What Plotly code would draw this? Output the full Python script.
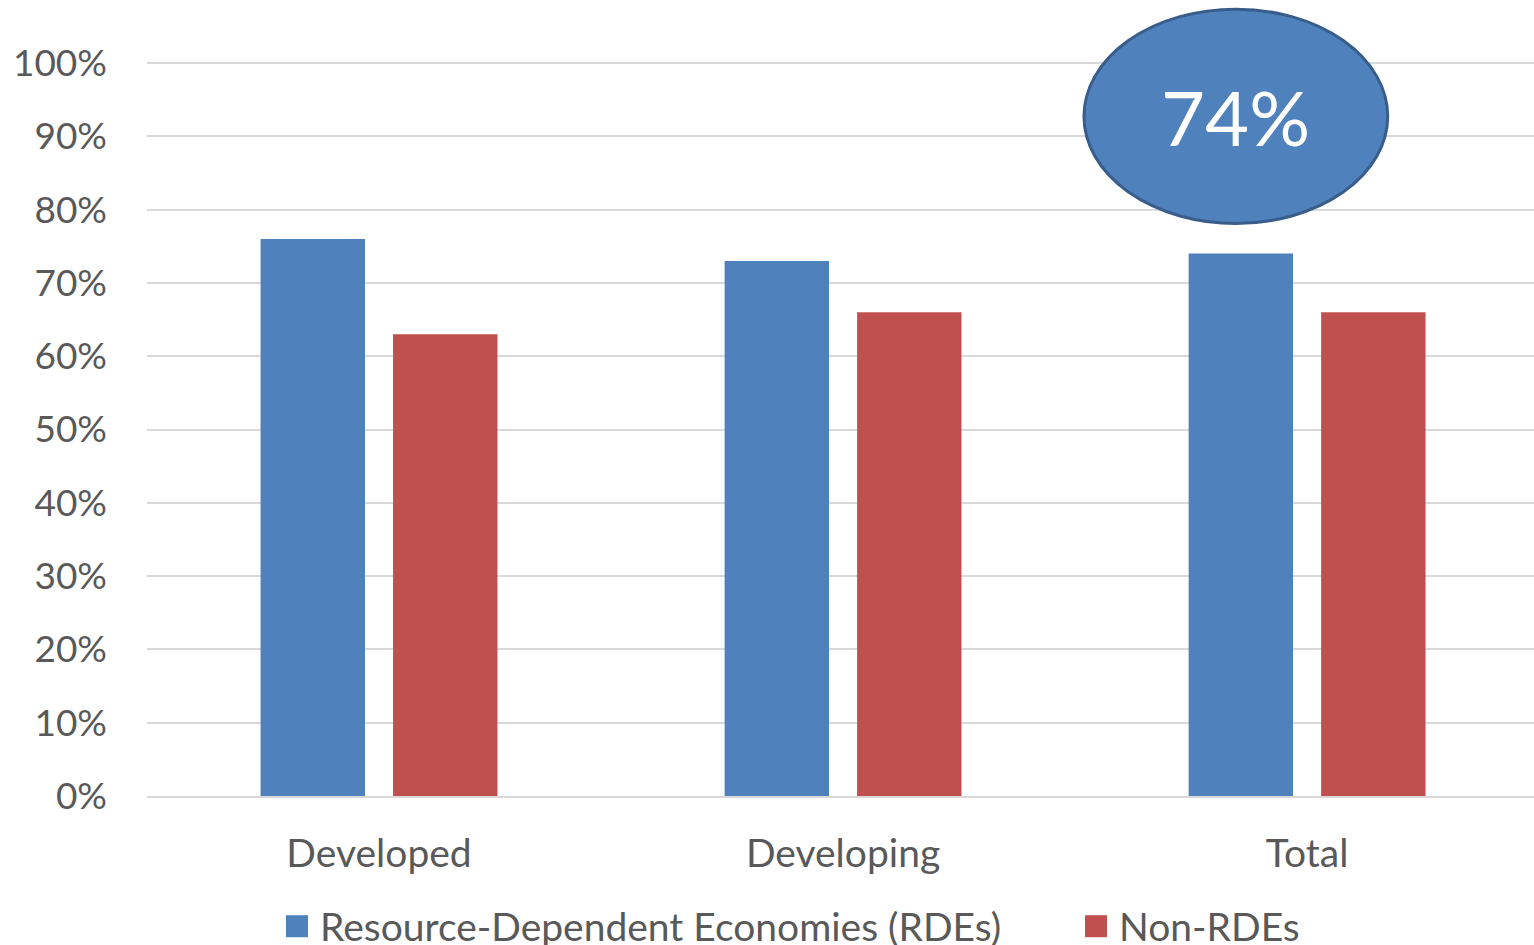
import plotly.graph_objects as go

# Share of economies, by group
categories = ["Developed", "Developing", "Total"]
series_names = ["Resource-Dependent Economies (RDEs)", "Non-RDEs"]
rde_values = [0.76, 0.73, 0.74]
non_rde_values = [0.63, 0.66, 0.66]
y_ticks = [0, 0.1, 0.2, 0.3, 0.4, 0.5, 0.6, 0.7, 0.8, 0.9, 1.0]
y_tick_labels = ["0%", "10%", "20%", "30%", "40%", "50%", "60%", "70%", "80%", "90%", "100%"]

BLUE = "#4F81BD"
RED = "#C0504D"
TEXT = "#595959"
GRID = "#D9D9D9"
FONT = "Lato"

W, H = 1534, 945
M_L, M_R, M_T, M_B = 147, 0, 62, 149
BARGAP = 0.429
GROUPGAP = 0.212
X_RANGE = [-0.5, 2.489]
Y_RANGE = [0, 1.0014]

fig = go.Figure()
fig.add_trace(go.Bar(x=categories, y=rde_values, name=series_names[0],
                     marker=dict(color=BLUE, line=dict(width=0)), showlegend=False))
fig.add_trace(go.Bar(x=categories, y=non_rde_values, name=series_names[1],
                     marker=dict(color=RED, line=dict(width=0)), showlegend=False))

fig.update_layout(
    width=W, height=H,
    margin=dict(l=M_L, r=M_R, t=M_T, b=M_B),
    paper_bgcolor="white", plot_bgcolor="white",
    barmode="group", bargap=BARGAP, bargroupgap=GROUPGAP,
    font=dict(family=FONT, color=TEXT, size=37),
)
fig.update_yaxes(range=Y_RANGE, tickvals=y_ticks, ticktext=y_tick_labels,
                 showgrid=True, gridcolor=GRID, gridwidth=2,
                 zeroline=False, showline=False, ticks="",
                 ticklabelstandoff=39, tickfont=dict(size=37, color=TEXT))
fig.update_xaxes(range=X_RANGE, showline=True, linecolor=GRID, linewidth=2, ticks="",
                 ticklabelstandoff=22, tickfont=dict(size=39, color=TEXT))

# Callout over the Total RDE bar (sitting a touch left of the bar centre)
span = X_RANGE[1] - X_RANGE[0]
group_w = 1 - BARGAP
idx = categories.index("Total")
cx = (idx - group_w / 4 - X_RANGE[0]) / span - 0.0036
rx, ry = 0.1095, 0.146
cy = 0.926
fig.add_shape(type="circle", xref="paper", yref="paper",
              x0=cx - rx, x1=cx + rx, y0=cy - ry, y1=cy + ry,
              fillcolor=BLUE, line=dict(color="#385D8A", width=3), layer="above")
fig.add_annotation(xref="paper", yref="paper", x=cx, y=cy,
                   text=f"{rde_values[idx]:.0%}", showarrow=False,
                   font=dict(family=FONT, size=76, color="white"),
                   xanchor="center", yanchor="middle")

# Legend row below the category labels
legend_items = [(series_names[0], BLUE, 0.1002), (series_names[1], RED, 0.6763)]
sq_w = 22 / (W - M_L - M_R)
sq_h = 22 / (H - M_T - M_B)
ly = -0.1774
for name, color, lx in legend_items:
    fig.add_shape(type="rect", xref="paper", yref="paper",
                  x0=lx, x1=lx + sq_w, y0=ly - sq_h / 2, y1=ly + sq_h / 2,
                  fillcolor=color, line=dict(width=0))
    fig.add_annotation(xref="paper", yref="paper", x=lx + sq_w + 0.0075, y=ly,
                       text=name, showarrow=False, xanchor="left", yanchor="middle",
                       font=dict(family=FONT, size=39, color=TEXT))

fig.write_html("out.html")
